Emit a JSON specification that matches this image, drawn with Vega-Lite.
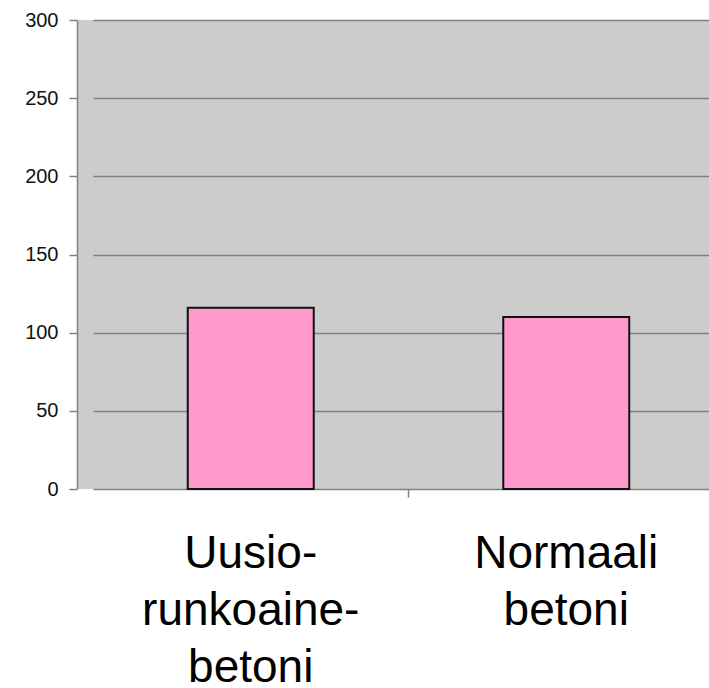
{
  "$schema": "https://vega.github.io/schema/vega-lite/v6.json",
  "autosize": {"type": "none"},
  "padding": {"left": 77, "top": 20, "right": 0, "bottom": 199},
  "width": 632,
  "height": 469,
  "background": "#ffffff",
  "config": {
    "view": {"fill": "#cccccc", "stroke": null},
    "font": "Liberation Sans"
  },
  "data": {
    "values": [
      {"betoni": "Uusio-\nrunkoaine-\nbetoni", "arvo": 116},
      {"betoni": "Normaali\nbetoni", "arvo": 110}
    ]
  },
  "mark": {"type": "bar", "size": 126, "fill": "#ff99cc", "stroke": "#111111", "strokeWidth": 2},
  "encoding": {
    "x": {
      "field": "betoni",
      "type": "nominal",
      "sort": null,
      "title": null,
      "scale": {"range": [16, 647], "paddingInner": 0, "paddingOuter": 0},
      "axis": {
        "domain": false,
        "grid": false,
        "ticks": true,
        "tickSize": 8,
        "tickWidth": 1.5,
        "tickColor": "#808080",
        "bandPosition": 0,
        "tickOpacity": {"condition": {"test": "indexof(datum.value, 'Normaali') < 0", "value": 0}, "value": 1},
        "labelExpr": "split(datum.label, '\\n')",
        "labelAngle": 0,
        "labelFont": "Liberation Sans",
        "labelFontSize": 46,
        "labelLineHeight": 57,
        "labelColor": "#000000",
        "labelBaseline": "alphabetic",
        "labelPadding": 70,
        "labelLimit": 0,
        "labelOverlap": false,
        "labelFlush": false
      }
    },
    "y": {
      "field": "arvo",
      "type": "quantitative",
      "title": null,
      "scale": {"domain": [0, 300], "nice": false},
      "axis": {
        "values": [0, 50, 100, 150, 200, 250, 300],
        "domain": true,
        "domainColor": "#808080",
        "domainWidth": 1.5,
        "grid": true,
        "gridColor": "#808080",
        "gridWidth": 1.5,
        "gridOpacity": 1,
        "ticks": true,
        "tickSize": 8,
        "tickColor": "#808080",
        "tickWidth": 1.5,
        "labelFont": "Liberation Sans",
        "labelFontSize": 20,
        "labelColor": "#111111",
        "labelPadding": 11
      }
    }
  }
}
